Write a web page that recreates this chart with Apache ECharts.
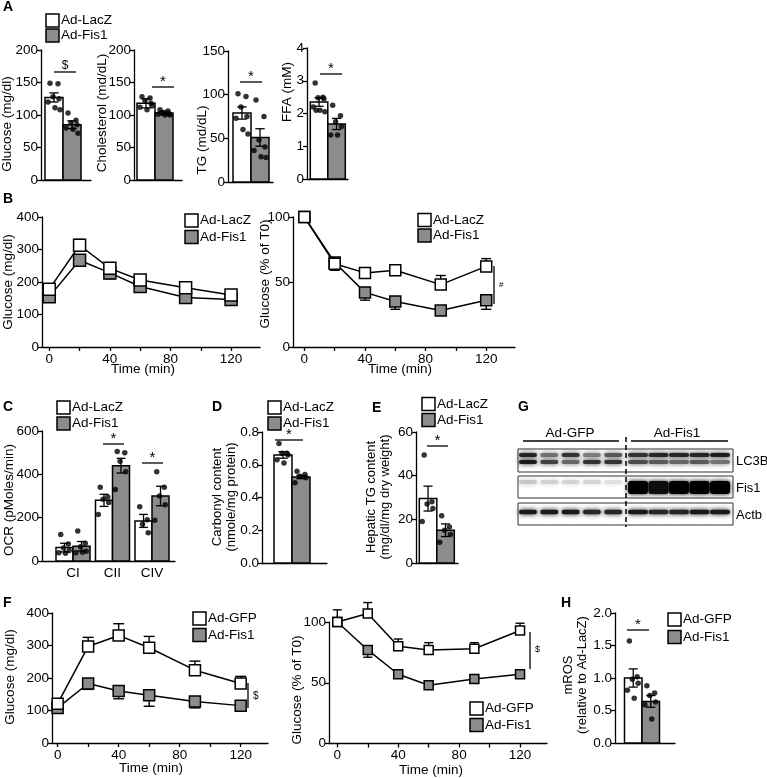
<!DOCTYPE html>
<html><head><meta charset="utf-8">
<script src="https://cdn.jsdelivr.net/npm/echarts@6/dist/echarts.min.js"></script>
<style>html,body{margin:0;padding:0;background:#fff}#c{width:767px;height:778px}</style>
</head><body><div id="c"></div>
<script>
// ================= DATA =================
const namesLacZ = ['Ad-LacZ', 'Ad-Fis1'];
const namesGFP = ['Ad-GFP', 'Ad-Fis1'];

// Panel A (plasma)
const aGlucoseMean = [127, 85];
const aGlucoseSem = [7, 6];
const aGlucoseDots = [[149, 148, 128, 125, 120, 111, 108], [103, 92, 88, 85, 80, 78, 72]];
const aCholMean = [118, 103];
const aCholSem = [7, 3];
const aCholDots = [[128, 126, 122, 118, 112, 108, 114], [108, 106, 104, 102, 101, 100, 100]];
const aTGMean = [79, 51];
const aTGSem = [7, 10];
const aTGDots = [[101, 98, 86, 75, 73, 60, 55], [94, 75, 48, 40, 36, 29, 28]];
const aFFAMean = [2.35, 1.68];
const aFFASem = [0.13, 0.17];
const aFFADots = [[2.93, 2.5, 2.48, 2.45, 2.2, 2.1, 2.05, 2.1], [2.25, 1.93, 1.75, 1.6, 1.34, 1.34]];

// Panel B (GTT / ITT)
const times = [0, 20, 40, 60, 90, 120];
const timeTicks = [0, 20, 40, 60, 80, 100, 120];
const timeLabels = [0, 40, 80, 120];
const bGttLacZ = [178, 313, 242, 206, 182, 160];
const bGttLacZErr = [8, 18, 8, 6, 6, 6];
const bGttFis1 = [155, 267, 228, 186, 152, 146];
const bGttFis1Err = [5, 10, 18, 6, 6, 5];
const bIttLacZ = [100, 64, 57, 59, 48, 62];
const bIttLacZErr = [2, 4, 3, 3, 7, 6];
const bIttFis1 = [100, 65, 42, 35, 28, 36];
const bIttFis1Err = [2, 6, 6, 6, 2, 7];

// Panel C (OCR)
const cCats = ['CI', 'CII', 'CIV'];
const cLacZ = [62, 280, 185];
const cLacZSem = [20, 28, 30];
const cFis1 = [68, 440, 300];
const cFis1Sem = [22, 34, 45];
const cLacZDots = [[122, 78, 60, 48, 38, 36], [340, 295, 285, 270, 215], [250, 190, 170, 130]];
const cFis1Dots = [[138, 82, 66, 45, 38, 40], [505, 500, 460, 412, 330], [412, 340, 300, 260, 188]];

// Panel D (carbonyl)
const dMean = [0.66, 0.525];
const dSem = [0.02, 0.01];
const dDots = [[0.73, 0.67, 0.67, 0.66, 0.63, 0.61], [0.56, 0.54, 0.53, 0.52, 0.49]];

// Panel E (hepatic TG)
const eMean = [29.5, 15];
const eSem = [5.7, 2.9];
const eDots = [[49.5, 28, 27, 25, 19], [21.6, 16.5, 15, 13, 9.5]];

// Panel F (GTT / ITT, GFP)
const fGttGFP = [121, 297, 331, 293, 224, 183];
const fGttGFPErr = [8, 28, 36, 35, 28, 22];
const fGttFis1 = [108, 183, 160, 147, 128, 115];
const fGttFis1Err = [6, 18, 24, 34, 20, 6];
const fIttGFP = [100, 107, 80, 77, 78, 93];
const fIttGFPErr = [10, 9, 6, 6, 5, 6];
const fIttFis1 = [100, 77, 57, 48, 53, 57];
const fIttFis1Err = [2, 6, 2, 2, 2, 2];

// Panel G (blot band intensities, lanes 1-5 Ad-GFP, 6-10 Ad-Fis1)
const blotRowNames = ['LC3B', 'Fis1', 'Actb'];
const lc3bUpper = [0.85, 0.55, 0.8, 0.5, 0.65, 0.8, 0.85, 0.85, 0.85, 0.9];
const lc3bLower = [0.9, 0.75, 0.6, 0.8, 0.8, 0.7, 0.65, 0.6, 0.65, 0.55];
const fis1Band = [0.22, 0.18, 0.17, 0.17, 0.12, 1, 0.95, 1, 1, 1];
const actbBand = [0.9, 0.9, 0.9, 0.85, 0.85, 0.9, 0.85, 0.85, 0.9, 0.9];

// Panel H (mROS)
const hMean = [1.0, 0.64];
const hSem = [0.14, 0.09];
const hDots = [[1.57, 1.02, 0.98, 0.92, 0.81, 0.69], [0.88, 0.77, 0.73, 0.63, 0.59, 0.37]];

// ================= BUILD =================
const FONT = '"Liberation Sans", Arial, Helvetica, sans-serif';
const GREY = '#8c8c8c';
const FILLS = ['#ffffff', GREY];
const LS = {color: '#000', width: 1.3};
const TICK_FS = 13.5;
const NAME_FS = 13.5;
const LEG_FS = 13.5;
const JIT = [-4, 4, -1, 5, -6, 1, 6, -3];

const grids = [], xAxes = [], yAxes = [], series = [], graphics = [];

function txt(x, y, s, o = {}) {
  graphics.push({
    type: 'text', x: x, y: y, rotation: o.rot || 0, z: 20,
    style: {
      x: 0, y: 0, text: s, fill: '#000',
      font: (o.bold ? 'bold ' : '') + (o.size || 12.5) + 'px ' + FONT,
      textAlign: o.align || 'left', align: o.align || 'left',
      textVerticalAlign: 'middle', verticalAlign: 'middle',
      lineHeight: o.lh || 14
    }
  });
}
function line(x1, y1, x2, y2, w = 1.3, dash) {
  graphics.push({type: 'line', z: 20, shape: {x1, y1, x2, y2}, style: {stroke: '#000', lineWidth: w, lineDash: dash || null}});
}
function box(x, y, w, h, fill, stroke = '#000', lw = 1.5) {
  graphics.push({type: 'rect', z: 20, shape: {x, y, width: w, height: h}, style: {fill: fill, stroke: stroke, lineWidth: lw}});
}
function legend(x, y1, y2, names, bs = 13) {
  [y1, y2].forEach((yc, k) => {
    box(x, yc - bs / 2, bs, bs, FILLS[k]);
    txt(x + bs + 2, yc, names[k], {size: LEG_FS});
  });
}
function yAx(gi, min, max, interval, fmt) {
  return {
    gridIndex: gi, type: 'value', min, max, interval,
    axisLine: {show: true, onZero: false, lineStyle: LS},
    axisTick: {show: true, length: 4, lineStyle: LS},
    axisLabel: {color: '#000', fontSize: TICK_FS, fontFamily: FONT, margin: 3, formatter: fmt},
    splitLine: {show: false}
  };
}

// Bar + dot panel
function barPanel(p) {
  const gi = grids.length;
  grids.push({left: p.left, top: p.top, width: p.width, height: p.height});
  const xa = {
    gridIndex: gi, type: 'value', min: 0, max: p.width,
    axisLine: {show: true, onZero: false, lineStyle: LS},
    axisTick: {show: false}, splitLine: {show: false},
    axisLabel: {show: false}
  };
  if (p.cats) {
    xa.axisLabel = {
      show: true, color: '#000', fontSize: TICK_FS, fontFamily: FONT, margin: 5,
      customValues: p.centers,
      formatter: v => p.cats[p.centers.indexOf(v)] || ''
    };
  }
  xAxes.push(xa);
  yAxes.push(yAx(gi, 0, p.ymax, p.yint, p.fmt));
  const items = [];
  const dots = [];
  p.means.forEach((grp, g) => grp.forEach((v, s) => {
    items.push([g, s, v, p.sems[g][s]]);
    const xc = p.centers[g] + (s - 0.5) * p.barPx;
    p.dots[g][s].forEach((d, j) => dots.push([xc + JIT[j % JIT.length] * p.barPx / 18, d]));
  }));
  series.push({
    type: 'custom', xAxisIndex: gi, yAxisIndex: gi, z: 2, clip: false,
    dimensions: ['g', 's', 'v', 'e'], encode: {x: 0, y: 2},
    data: items,
    renderItem: (params, api) => {
      const g = api.value(0), s = api.value(1), v = api.value(2), e = api.value(3);
      const xc = p.centers[g] + (s - 0.5) * p.barPx;
      const tl = api.coord([xc - p.barPx / 2, v]);
      const br = api.coord([xc + p.barPx / 2, 0]);
      const tp = api.coord([xc, v + e]), bt = api.coord([xc, v - e]);
      const cw = p.barPx * 0.26;
      const st = {stroke: '#000', lineWidth: 1.3};
      return {type: 'group', children: [
        {type: 'rect', shape: {x: tl[0], y: tl[1], width: br[0] - tl[0], height: br[1] - tl[1]}, style: {fill: FILLS[s], stroke: '#000', lineWidth: 1.5}},
        {type: 'line', shape: {x1: tp[0], y1: tp[1], x2: bt[0], y2: bt[1]}, style: st},
        {type: 'line', shape: {x1: tp[0] - cw, y1: tp[1], x2: tp[0] + cw, y2: tp[1]}, style: st},
        {type: 'line', shape: {x1: bt[0] - cw, y1: bt[1], x2: bt[0] + cw, y2: bt[1]}, style: st}
      ]};
    }
  });
  series.push({
    type: 'scatter', xAxisIndex: gi, yAxisIndex: gi, z: 5, clip: false,
    symbol: 'circle', symbolSize: 5.5, itemStyle: {color: '#000'},
    data: dots, silent: true
  });
}

// Time-course panel
function linePanel(p) {
  const gi = grids.length;
  grids.push({left: p.left, top: p.top, width: p.width, height: p.height});
  xAxes.push({
    gridIndex: gi, type: 'value', min: p.xmin, max: p.xmax,
    axisLine: {show: true, onZero: false, lineStyle: LS},
    axisTick: {show: true, length: 4, lineStyle: LS, customValues: timeTicks},
    axisLabel: {color: '#000', fontSize: TICK_FS, fontFamily: FONT, margin: 5, customValues: timeLabels},
    splitLine: {show: false}
  });
  yAxes.push(yAx(gi, 0, p.ymax, p.yint));
  p.lines.forEach(l => {
    series.push({
      type: 'custom', xAxisIndex: gi, yAxisIndex: gi, z: 3, clip: false,
      encode: {x: 0, y: 1},
      data: times.map((t, i) => [t, l.vals[i], l.errs[i]]),
      renderItem: (params, api) => {
        const t = api.value(0), v = api.value(1), e = api.value(2);
        const a = api.coord([t, v]), b = api.coord([t, v + l.dir * e]);
        const cw = p.cap / 2, st = {stroke: '#000', lineWidth: 1.4};
        return {type: 'group', children: [
          {type: 'line', shape: {x1: a[0], y1: a[1], x2: b[0], y2: b[1]}, style: st},
          {type: 'line', shape: {x1: b[0] - cw, y1: b[1], x2: b[0] + cw, y2: b[1]}, style: st}
        ]};
      }
    });
    series.push({
      type: 'line', name: l.name, xAxisIndex: gi, yAxisIndex: gi, z: 4, clip: false,
      data: times.map((t, i) => [t, l.vals[i]]),
      symbol: 'rect', symbolSize: p.sym, showAllSymbol: true,
      itemStyle: {color: l.fill, borderColor: '#000', borderWidth: 1.5},
      lineStyle: {color: '#000', width: 1.5},
      emphasis: {disabled: true}, silent: true
    });
  });
}

// ---- Panel A ----
barPanel({left: 41, top: 50, width: 50, height: 130, ymax: 200, yint: 50, barPx: 18, centers: [22],
  means: [aGlucoseMean], sems: [aGlucoseSem], dots: [aGlucoseDots]});
barPanel({left: 134, top: 50, width: 48, height: 130, ymax: 200, yint: 50, barPx: 18, centers: [21],
  means: [aCholMean], sems: [aCholSem], dots: [aCholDots]});
barPanel({left: 228, top: 51, width: 45, height: 131, ymax: 150, yint: 50, barPx: 18, centers: [23],
  means: [aTGMean], sems: [aTGSem], dots: [aTGDots]});
barPanel({left: 307, top: 48, width: 41, height: 131, ymax: 4, yint: 1, barPx: 17.5, centers: [20.8],
  means: [aFFAMean], sems: [aFFASem], dots: [aFFADots]});

// ---- Panel B ----
linePanel({left: 42, top: 217, width: 218, height: 130, xmin: -4.8, xmax: 139.1, ymax: 400, yint: 100, sym: 12, cap: 10,
  lines: [
    {name: 'Ad-Fis1', vals: bGttFis1, errs: bGttFis1Err, fill: GREY, dir: -1},
    {name: 'Ad-LacZ', vals: bGttLacZ, errs: bGttLacZErr, fill: '#fff', dir: 1}
  ]});
linePanel({left: 293, top: 217, width: 222, height: 130, xmin: -7.5, xmax: 139, ymax: 100, yint: 50, sym: 11, cap: 10,
  lines: [
    {name: 'Ad-Fis1', vals: bIttFis1, errs: bIttFis1Err, fill: GREY, dir: -1},
    {name: 'Ad-LacZ', vals: bIttLacZ, errs: bIttLacZErr, fill: '#fff', dir: 1}
  ]});

// ---- Panel C ----
barPanel({left: 42, top: 431, width: 133, height: 130, ymax: 600, yint: 200, barPx: 17, centers: [31, 70.5, 110], cats: cCats,
  means: cLacZ.map((v, i) => [v, cFis1[i]]), sems: cLacZSem.map((v, i) => [v, cFis1Sem[i]]),
  dots: cLacZDots.map((d, i) => [d, cFis1Dots[i]])});

// ---- Panel D ----
barPanel({left: 262, top: 432, width: 65, height: 131, ymax: 0.8, yint: 0.2, barPx: 18, centers: [30], fmt: v => v.toFixed(1),
  means: [dMean], sems: [dSem], dots: [dDots]});

// ---- Panel E ----
barPanel({left: 416, top: 432, width: 42, height: 131, ymax: 60, yint: 20, barPx: 17.5, centers: [20.8],
  means: [eMean], sems: [eSem], dots: [eDots]});

// ---- Panel F ----
linePanel({left: 52, top: 613, width: 216, height: 130, xmin: -3.7, xmax: 137.9, ymax: 400, yint: 100, sym: 11, cap: 11,
  lines: [
    {name: 'Ad-Fis1', vals: fGttFis1, errs: fGttFis1Err, fill: GREY, dir: -1},
    {name: 'Ad-GFP', vals: fGttGFP, errs: fGttGFPErr, fill: '#fff', dir: 1}
  ]});
linePanel({left: 329, top: 622, width: 218, height: 121.5, xmin: -5.45, xmax: 137.7, ymax: 100, yint: 50, sym: 9, cap: 9,
  lines: [
    {name: 'Ad-Fis1', vals: fIttFis1, errs: fIttFis1Err, fill: GREY, dir: -1},
    {name: 'Ad-GFP', vals: fIttGFP, errs: fIttGFPErr, fill: '#fff', dir: 1}
  ]});

// ---- Panel H ----
barPanel({left: 615, top: 613, width: 60, height: 130, ymax: 2, yint: 0.5, barPx: 17.5, centers: [27], fmt: v => v.toFixed(1),
  means: [hMean], sems: [hSem], dots: [hDots]});

// ---- Panel G (blot) ----
(function () {
  const gi = grids.length;
  grids.push({left: 518, top: 449, width: 215, height: 76});
  xAxes.push({gridIndex: gi, type: 'value', min: 0, max: 215, show: false});
  yAxes.push({gridIndex: gi, type: 'value', min: 0, max: 76, inverse: true, show: false});
  const laneX = i => i < 5 ? 10 + i * 21.3 : 120 + (i - 5) * 20.5;
  const rows = [lc3bUpper, lc3bLower, fis1Band, actbBand];
  const data = [];
  rows.forEach((arr, r) => arr.forEach((v, i) => data.push([i, r, v])));
  series.push({
    type: 'custom', xAxisIndex: gi, yAxisIndex: gi, z: 2, data: data, encode: {x: 0, y: 1}, clip: false,
    renderItem: (params, api) => {
      const lane = api.value(0), r = api.value(1), inten = api.value(2);
      let yc, th;
      if (r === 0) { yc = 6; th = 4; }
      else if (r === 1) { yc = 13; th = 4; }
      else if (r === 2) { if (inten > 0.5) { yc = 38.5; th = 13; } else { yc = 33; th = 4; } }
      else { yc = 63; th = 4.5; }
      const c = api.coord([laneX(lane), yc]);
      const w = lane < 5 ? 18 : 20;
      const g = Math.round(255 * (1 - inten));
      const col = 'rgb(' + g + ',' + g + ',' + g + ')';
      return {type: 'rect', shape: {x: c[0] - w / 2, y: c[1] - th / 2, width: w, height: th, r: Math.min(th / 2, 3)},
        style: {fill: col, shadowBlur: 5, shadowColor: col}};
    }
  });
})();
box(518, 449, 215, 23, 'none', '#333', 1);
box(518, 476, 215, 22, 'none', '#333', 1);
box(518, 503, 215, 22, 'none', '#333', 1);
line(626, 437, 626, 527, 1.5, [5, 3]);
txt(570, 433, 'Ad-GFP', {size: 13.5, align: 'center'});
txt(677, 433, 'Ad-Fis1', {size: 13.5, align: 'center'});
line(523, 441, 619, 441, 1.3);
line(631, 441, 728, 441, 1.3);
txt(736, 461, blotRowNames[0], {size: 13});
txt(736, 488, blotRowNames[1], {size: 13});
txt(736, 515, blotRowNames[2], {size: 13});

// ---- Panel letters ----
[['A', 3, 7], ['B', 3, 199], ['C', 3, 407], ['D', 212, 407], ['E', 372, 408], ['G', 518, 407], ['F', 3, 603], ['H', 561, 603]]
  .forEach(([s, x, y]) => txt(x, y, s, {size: 14, bold: true}));

// ---- Legends ----
legend(46, 20.5, 35.5, namesLacZ);
legend(185, 220.5, 237, namesLacZ);
legend(418, 220, 235.5, namesLacZ);
legend(57, 407.5, 423.5, namesLacZ);
legend(268, 407.5, 423.5, namesLacZ);
legend(422, 404, 420, namesLacZ);
legend(193, 618.5, 635, namesGFP);
legend(470, 708.5, 725, namesGFP);
legend(668, 619.5, 637, namesGFP);

// ---- Axis names ----
const R = Math.PI / 2;
txt(7, 124, 'Glucose (mg/dl)', {rot: R, align: 'center', size: NAME_FS});
txt(102, 113, 'Cholesterol (md/dL)', {rot: R, align: 'center', size: NAME_FS});
txt(202, 140, 'TG (md/dL)', {rot: R, align: 'center', size: NAME_FS});
txt(287, 92, 'FFA (mM)', {rot: R, align: 'center', size: NAME_FS});
txt(8, 282, 'Glucose (mg/dl)', {rot: R, align: 'center', size: NAME_FS});
txt(265, 274, 'Glucose (% of T0)', {rot: R, align: 'center', size: NAME_FS});
txt(9, 500, 'OCR (pMoles/min)', {rot: R, align: 'center', size: NAME_FS});
txt(224, 497, 'Carbonyl content\n(nmole/mg protein)', {rot: R, align: 'center', size: 13, lh: 14});
txt(378, 497, 'Hepatic TG content\n(mg/dl/mg dry weight)', {rot: R, align: 'center', size: 13, lh: 14});
txt(10, 677, 'Glucose (mg/dl)', {rot: R, align: 'center', size: NAME_FS});
txt(297, 690, 'Glucose (% of T0)', {rot: R, align: 'center', size: NAME_FS});
txt(575, 675, 'mROS\n(relative to Ad-LacZ)', {rot: R, align: 'center', size: 13, lh: 14});
txt(143, 369, 'Time (min)', {align: 'center', size: NAME_FS});
txt(400, 369, 'Time (min)', {align: 'center', size: NAME_FS});
txt(151, 768, 'Time (min)', {align: 'center', size: NAME_FS});
txt(431, 770, 'Time (min)', {align: 'center', size: NAME_FS});

// ---- Significance marks ----
line(54, 72, 76, 72); txt(65, 66, '$', {align: 'center', size: 12});
line(152, 87, 174, 87); txt(163, 82, '*', {align: 'center', size: 15});
line(240, 82, 262, 82); txt(251, 77, '*', {align: 'center', size: 15});
line(320, 74, 342, 74); txt(331, 69, '*', {align: 'center', size: 15});
line(494, 266, 494, 304); txt(499, 285, '#', {size: 8});
line(103, 444, 124, 444); txt(113.5, 439, '*', {align: 'center', size: 15});
line(142, 463, 163, 463); txt(152.5, 458, '*', {align: 'center', size: 15});
line(275, 440, 303, 440); txt(289, 435, '*', {align: 'center', size: 15});
line(427, 446, 448, 446); txt(437.5, 441, '*', {align: 'center', size: 15});
line(248, 683, 248, 708); txt(253, 696, '$', {size: 10});
line(530, 632, 530, 669); txt(535, 650, '$', {size: 9});
line(627, 630, 649, 630); txt(638, 625, '*', {align: 'center', size: 15});

const chart = echarts.init(document.getElementById('c'), null, {renderer: 'canvas'});
chart.setOption({
  animation: false,
  backgroundColor: '#fff',
  textStyle: {fontFamily: FONT},
  grid: grids, xAxis: xAxes, yAxis: yAxes, series: series,
  graphic: {elements: graphics}
});
</script></body></html>
